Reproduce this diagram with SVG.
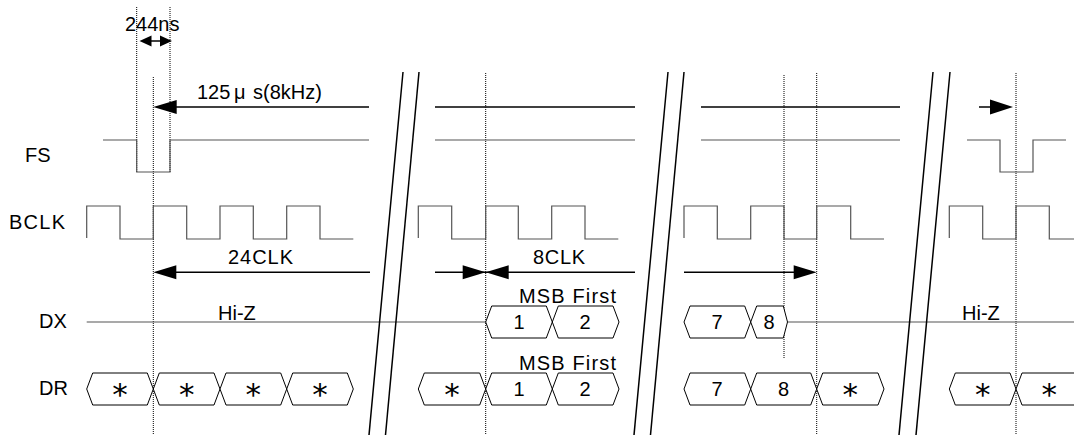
<svg xmlns="http://www.w3.org/2000/svg" width="1074" height="435" viewBox="0 0 1074 435">
<style>
  text { font-family: "Liberation Sans", Arial, sans-serif; font-size: 20px; fill: #000; }
  .mid { text-anchor: middle; }
  .ast { font-family: "DejaVu Sans", sans-serif; font-size: 31px; text-anchor: middle; fill: #000; }
  .sig { fill: none; stroke: #555; stroke-width: 1.2; }
  .arr { fill: none; stroke: #000; stroke-width: 1.5; }
  .head { fill: #000; stroke: none; }
  .dot { stroke: #000; stroke-width: 1; stroke-dasharray: 1 1; fill: none; }
  .hex { fill: #fff; stroke: #000; stroke-width: 1; }
  .brk { stroke: #000; stroke-width: 1.5; fill: none; }
  .hiz { stroke: #555; stroke-width: 1.2; fill: none; }
</style>

<!-- signal labels -->
<g id="labels">
  <text x="25" y="162">FS</text>
  <text x="9" y="229" textLength="56" lengthAdjust="spacing">BCLK</text>
  <text x="39" y="328">DX</text>
  <text x="39" y="395">DR</text>
</g>

<!-- dotted timing references -->
<g id="guides">
  <line class="dot" x1="136.7" y1="7" x2="136.7" y2="172"/>
  <line class="dot" x1="170" y1="7" x2="170" y2="172"/>
  <line class="dot" x1="153.3" y1="77" x2="153.3" y2="435"/>
  <line class="dot" x1="485.7" y1="73" x2="485.7" y2="435"/>
  <line class="dot" x1="784" y1="75" x2="784" y2="359"/>
  <line class="dot" x1="816.7" y1="73" x2="816.7" y2="435"/>
  <line class="dot" x1="1016" y1="73" x2="1016" y2="435"/>
</g>

<!-- FS -->
<g id="fs">
  <path class="sig" d="M103,140 H136.7 V172 H170 V140 H369"/>
  <path class="sig" d="M435,140 H635"/>
  <path class="sig" d="M701,140 H900"/>
  <path class="sig" d="M967,140 H1000 V172 H1033 V140 H1066"/>
</g>

<!-- BCLK -->
<g id="bclk">
  <path class="sig" d="M86.7,238 V206 H120 V239 H153.3 V206 H186.7 V239 H220 V206 H253.3 V239 H286.7 V206 H320 V239 H353.3"/>
  <path class="sig" d="M418.3,238 V206 H451.7 V239 H485.7 V206 H518.3 V239 H551.7 V206 H585 V239 H618.3"/>
  <path class="sig" d="M684,238 V206 H717.3 V239 H750.7 V206 H784 V239 H816.7 V206 H850.7 V239 H884"/>
  <path class="sig" d="M949.3,238 V206 H982.7 V239 H1016 V206 H1049.3 V239 H1080"/>
</g>

<!-- DX -->
<g id="dx">
  <path class="hiz" d="M86.7,322 H485.7"/>
  <path class="hiz" d="M787.5,322 H1074"/>
  <polygon class="hex" points="485.7,322 491.7,306 546.3,306 552.3,322 546.3,338 491.7,338"/>
  <polygon class="hex" points="552.3,322 558.3,306 613,306 619,322 613,338 558.3,338"/>
  <polygon class="hex" points="684,322 690,306 744.7,306 750.7,322 744.7,338 690,338"/>
  <polygon class="hex" points="750.7,322 756.7,306 783.3,306 787.5,322 783.3,338 756.7,338"/>
  <text class="mid" x="519" y="329">1</text>
  <text class="mid" x="585" y="329">2</text>
  <text class="mid" x="717" y="329">7</text>
  <text class="mid" x="769" y="329">8</text>
  <text x="218" y="320">Hi-Z</text>
  <text x="962" y="320">Hi-Z</text>
  <text x="519" y="303" textLength="97" lengthAdjust="spacing">MSB First</text>
</g>

<!-- DR -->
<g id="dr">
  <polygon class="hex" points="86.7,389 92.7,373 147.3,373 153.3,389 147.3,405 92.7,405"/>
  <polygon class="hex" points="153.3,389 159.3,373 214,373 220,389 214,405 159.3,405"/>
  <polygon class="hex" points="220,389 226,373 280.7,373 286.7,389 280.7,405 226,405"/>
  <polygon class="hex" points="286.7,389 292.7,373 347.3,373 353.3,389 347.3,405 292.7,405"/>
  <polygon class="hex" points="418.3,389 424.3,373 479.7,373 485.7,389 479.7,405 424.3,405"/>
  <polygon class="hex" points="485.7,389 491.7,373 546.3,373 552.3,389 546.3,405 491.7,405"/>
  <polygon class="hex" points="552.3,389 558.3,373 613,373 619,389 613,405 558.3,405"/>
  <polygon class="hex" points="684,389 690,373 744.7,373 750.7,389 744.7,405 690,405"/>
  <polygon class="hex" points="750.7,389 756.7,373 810.7,373 816.7,389 810.7,405 756.7,405"/>
  <polygon class="hex" points="816.7,389 822.7,373 878,373 884,389 878,405 822.7,405"/>
  <polygon class="hex" points="949.3,389 955.3,373 1010,373 1016,389 1010,405 955.3,405"/>
  <polygon class="hex" points="1016,389 1022,373 1076.7,373 1082.7,389 1076.7,405 1022,405"/>
  <text class="ast" x="120" y="405">*</text>
  <text class="ast" x="186.7" y="405">*</text>
  <text class="ast" x="253.3" y="405">*</text>
  <text class="ast" x="320" y="405">*</text>
  <text class="ast" x="452" y="405">*</text>
  <text class="mid" x="519" y="396">1</text>
  <text class="mid" x="585" y="396">2</text>
  <text class="mid" x="717" y="396">7</text>
  <text class="mid" x="783.5" y="396">8</text>
  <text class="ast" x="850.3" y="405">*</text>
  <text class="ast" x="982.7" y="405">*</text>
  <text class="ast" x="1049.3" y="405">*</text>
  <text x="519" y="370" textLength="97" lengthAdjust="spacing">MSB First</text>
</g>

<!-- dimension arrows -->
<g id="connectors">
  <!-- 244ns -->
  <line class="arr" x1="148" y1="41" x2="164" y2="41"/>
  <polygon class="head" points="139.5,41 151.5,35.5 151.5,46.5"/>
  <polygon class="head" points="172,41 160,35.5 160,46.5"/>
  <!-- 125us -->
  <line class="arr" x1="170" y1="107" x2="369" y2="107"/>
  <polygon class="head" points="153.3,107 176.7,100 176.7,114"/>
  <line class="arr" x1="435" y1="107" x2="635" y2="107"/>
  <line class="arr" x1="701" y1="107" x2="900" y2="107"/>
  <line class="arr" x1="979" y1="107" x2="995" y2="107"/>
  <polygon class="head" points="1013,107 990,99.5 990,114.5"/>
  <!-- 24CLK -->
  <line class="arr" x1="170" y1="272.3" x2="370" y2="272.3"/>
  <polygon class="head" points="153.3,272.3 176.3,265.3 176.3,279.3"/>
  <!-- 8CLK -->
  <line class="arr" x1="435" y1="272.3" x2="635" y2="272.3"/>
  <polygon class="head" points="485.7,272.3 462.7,265.3 462.7,279.3"/>
  <polygon class="head" points="485.7,272.3 508.7,265.3 508.7,279.3"/>
  <line class="arr" x1="684" y1="272.3" x2="800" y2="272.3"/>
  <polygon class="head" points="816.7,272.3 793.7,265.3 793.7,279.3"/>
</g>

<g id="dim-labels">
  <text x="125" y="31">244ns</text>
  <text y="99"><tspan x="197">125</tspan><tspan x="234">μ</tspan><tspan x="253">s(8kHz)</tspan></text>
  <text x="228" y="264" textLength="65" lengthAdjust="spacing">24CLK</text>
  <text x="533" y="264" textLength="52" lengthAdjust="spacing">8CLK</text>
</g>

<!-- break marks -->
<g id="breaks">
  <line class="brk" x1="403" y1="72" x2="369" y2="435"/>
  <line class="brk" x1="419" y1="72" x2="385.5" y2="435"/>
  <line class="brk" x1="668" y1="72" x2="634" y2="435"/>
  <line class="brk" x1="684" y1="72" x2="650.5" y2="435"/>
  <line class="brk" x1="933" y1="72" x2="899" y2="435"/>
  <line class="brk" x1="950" y1="72" x2="916" y2="435"/>
</g>
</svg>
